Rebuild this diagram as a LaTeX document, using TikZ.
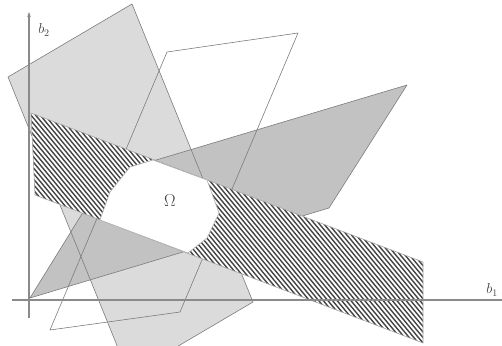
\documentclass[tikz,border=0pt]{standalone}
\usetikzlibrary{arrows.meta}
\definecolor{lgray}{HTML}{DBDBDB}
\definecolor{mgray}{HTML}{C2C2C2}
\definecolor{edgec}{HTML}{7C7C7C}
\definecolor{hatchc}{HTML}{444444}
\definecolor{axisc}{HTML}{8A8A8A}
\begin{document}
\begin{tikzpicture}[x=1pt,y=-1pt,
  edgeline/.style={draw=edgec,line width=0.6pt,line join=round},
  axisline/.style={draw=axisc,line width=1.3pt},
  stripe/.style={draw=hatchc,line width=1.4pt},
  lab/.style={inner sep=0pt,text=black!75}]
\useasboundingbox (0,0) rectangle (502,345);
\clip (0,0) rectangle (502,345);
% vertices
\coordinate (P1) at (8,77);   \coordinate (P2) at (132,4);
\coordinate (P3) at (253,302); \coordinate (P4) at (129,375);
\coordinate (O) at (30,298);  \coordinate (R) at (329,208);
\coordinate (T) at (407,85);  \coordinate (V) at (106,175);
\coordinate (Q1) at (167,52); \coordinate (Q2) at (298,33);
\coordinate (Q3) at (180,312); \coordinate (Q4) at (50,330);
\coordinate (B1) at (31,113); \coordinate (B2) at (423,262);
\coordinate (B3) at (423,343); \coordinate (B4) at (35,195);
\coordinate (W1) at (100,220); \coordinate (W2) at (110,192);
\coordinate (W3) at (130,167); \coordinate (W4) at (153,160);
\coordinate (W5) at (207,180); \coordinate (W6) at (219,213);
\coordinate (W7) at (207,238); \coordinate (W8) at (188,253);
% fills
\fill[lgray] (P1)--(P2)--(P3)--(P4)--cycle;
\fill[mgray] (O)--(R)--(T)--(V)--cycle;
% outlines
\draw[edgeline] (P1)--(P2)--(P3)--(P4)--cycle;
\draw[edgeline] (O)--(R)--(T)--(V)--cycle;
\draw[edgeline] (Q1)--(Q2)--(Q3)--(Q4)--cycle;
% hatched band
\begin{scope}
  \clip (B1)--(B2)--(B3)--(B4)--cycle;
  \fill[white] (B1)--(B2)--(B3)--(B4)--cycle;
  \foreach \k in {-40,...,93} {
    \draw[stripe] (\k*4.6,100) -- ++(208,250);
  }
\end{scope}
\draw[edgeline,draw=edgec!70] (B1)--(B2)--(B3)--(B4)--cycle;
% Omega region
\fill[white] (W1)--(W2)--(W3)--(W4)--(W5)--(W6)--(W7)--(W8)--cycle;
\draw[edgeline,draw=edgec!60] (W1)--(W2)--(W3)--(W4)--(W5)--(W6)--(W7)--(W8)--cycle;
% axes
\coordinate (ya) at (29,318); \coordinate (yb) at (29,12);
\coordinate (xa) at (12,300); \coordinate (xb) at (502,300);
\draw[axisline] (xa) -- (xb);
\draw[axisline,-{Stealth[length=5pt,width=3.5pt,fill=black!80]}] (ya) -- (yb);
% labels
\node[lab,font=\Large] (lb2) at (44,30) {$b_2$};
\node[lab,font=\Large] (lb1) at (492,290) {$b_1$};
\node[lab,font=\fontsize{19}{22}\selectfont] (lom) at (170,201) {$\Omega$};
\end{tikzpicture}
\end{document}
